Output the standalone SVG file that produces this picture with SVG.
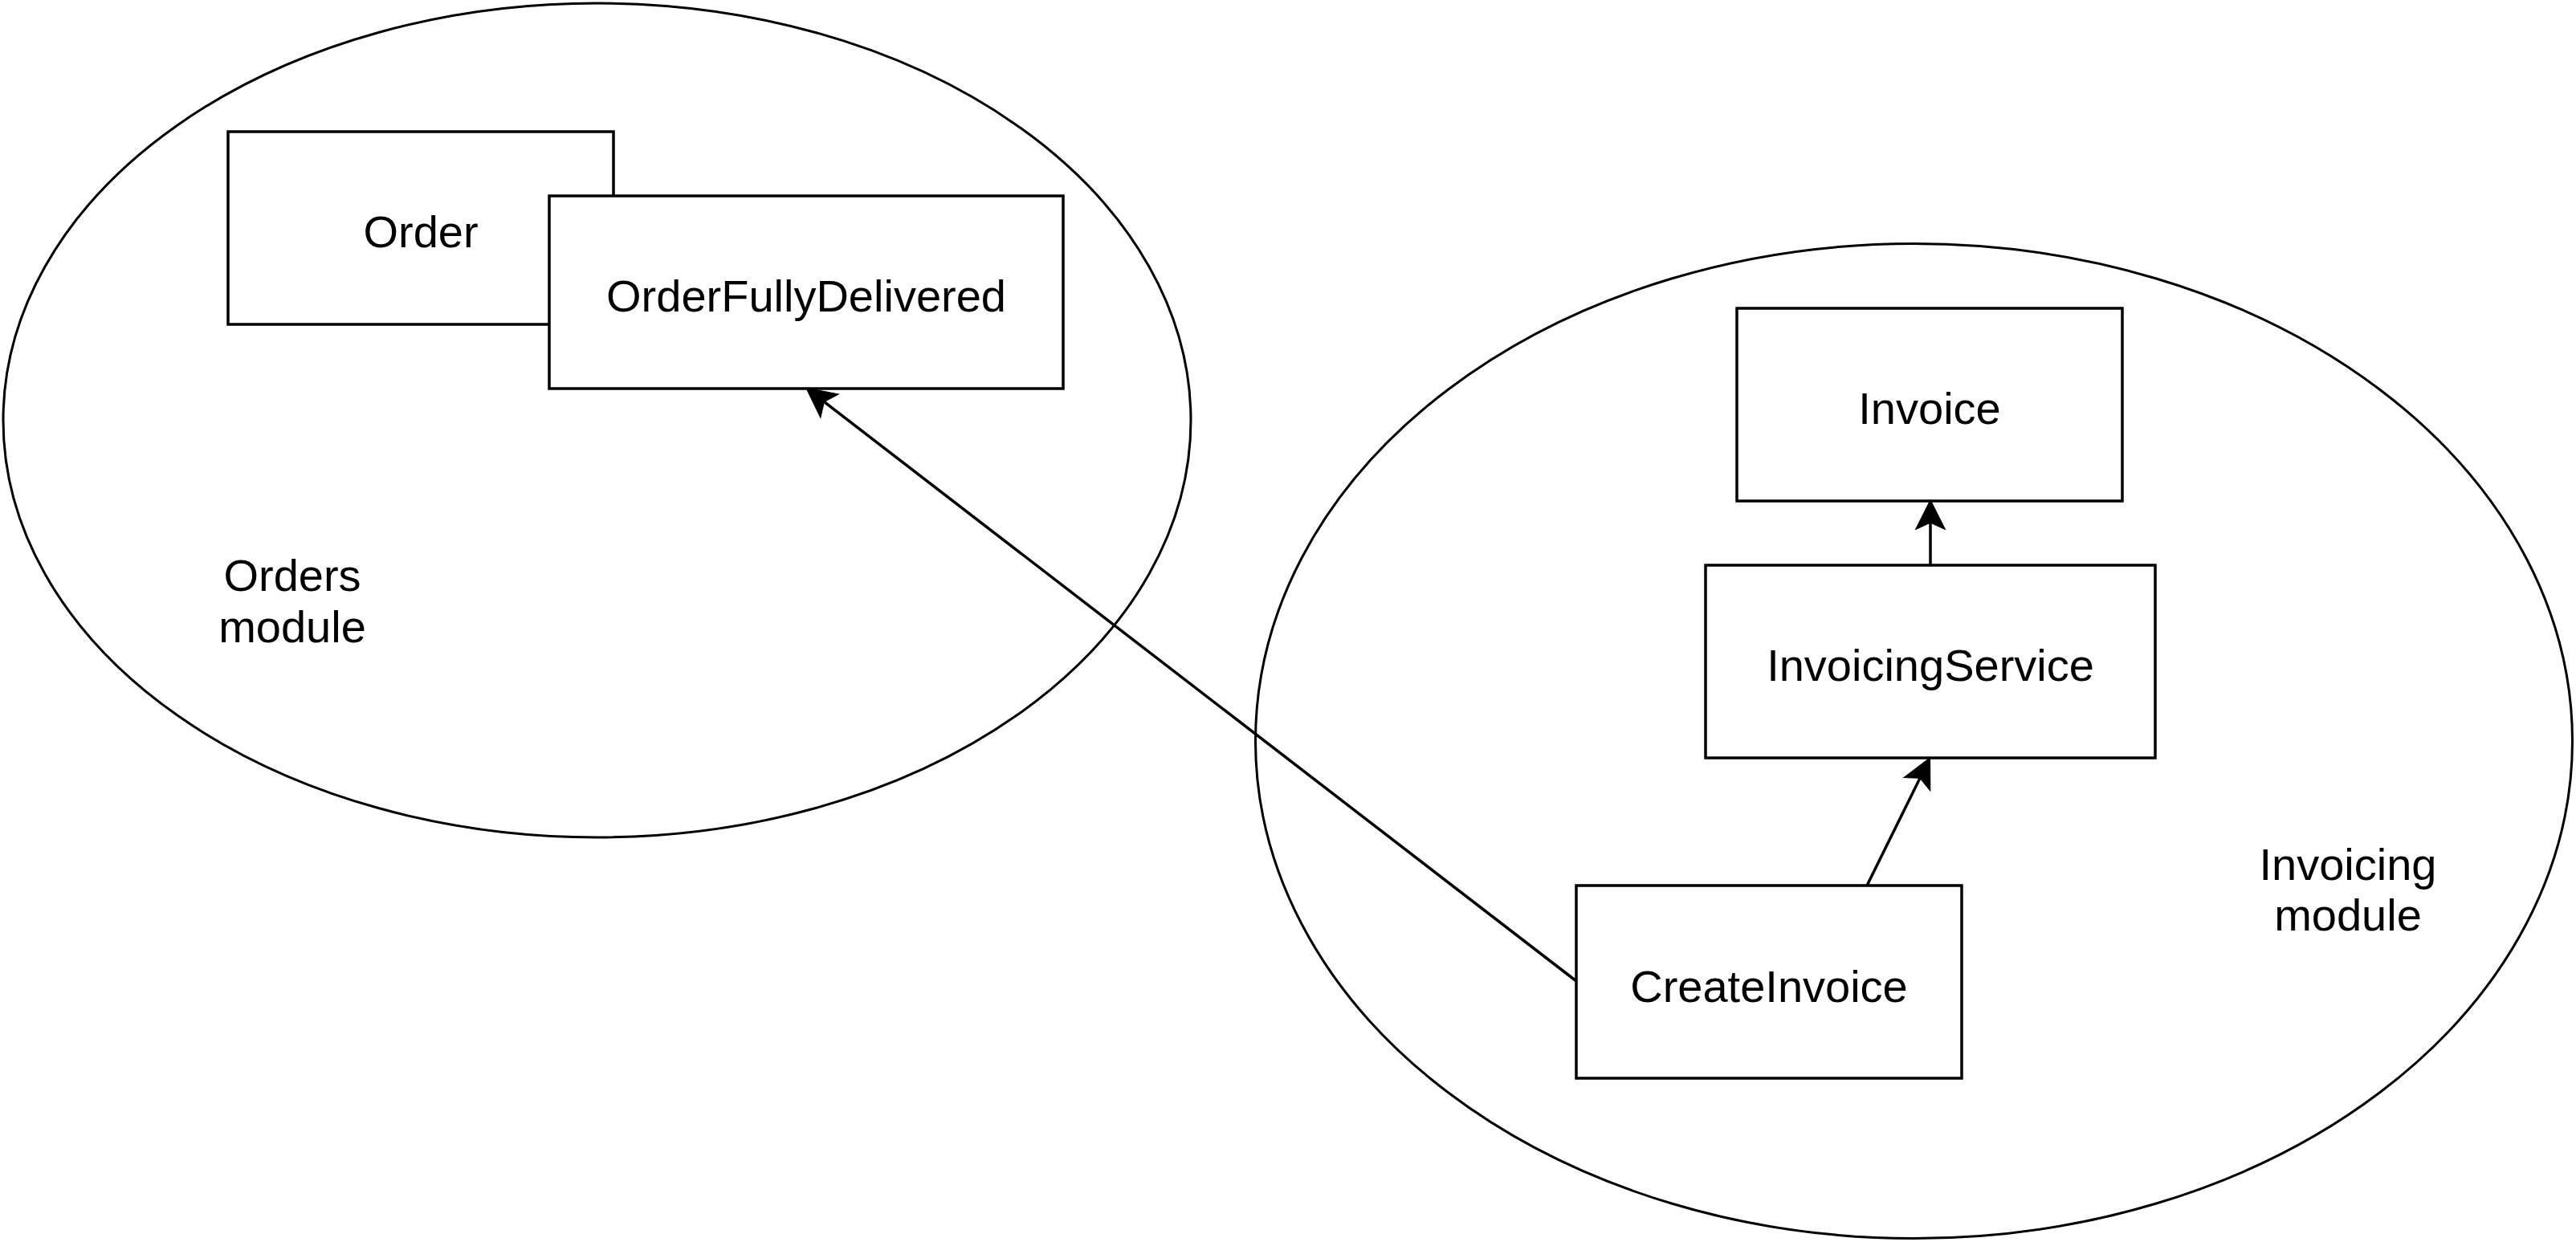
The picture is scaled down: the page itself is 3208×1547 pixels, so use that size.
<svg xmlns="http://www.w3.org/2000/svg" width="3208" height="1547" viewBox="0 0 3208 1547">
  <style>
    .mod { fill: none; stroke: #000; stroke-width: 3; }
    .box { fill: #fff; stroke: #000; stroke-width: 3.5; }
    .lbl { font-family: "Liberation Sans", Arial, sans-serif; font-size: 56px; fill: #000; text-anchor: middle; }
    .edge { fill: none; stroke: #000; stroke-width: 3.5; }
  </style>
  <defs>
    <marker id="arrow" markerUnits="userSpaceOnUse" markerWidth="40" markerHeight="40" viewBox="-1 -19 38 38" refX="8" refY="0" orient="auto">
      <path d="M0,-17.5 L35,0 L0,17.5 L8,0 Z" fill="#000" stroke="#000" stroke-width="1"/>
    </marker>
  </defs>
  <rect x="0" y="0" width="3208" height="1547" fill="#fff"/>

  <g id="orders-module">
    <ellipse class="mod" cx="743.5" cy="523.5" rx="739.5" ry="519.5"/>
    <text class="lbl" x="364" y="736">Orders</text>
    <text class="lbl" x="364" y="800">module</text>
  </g>

  <g id="invoicing-module">
    <ellipse class="mod" cx="2383.5" cy="923" rx="820" ry="619.5"/>
    <text class="lbl" x="2924" y="1096">Invoicing</text>
    <text class="lbl" x="2924" y="1159">module</text>
  </g>

  <g id="order">
    <rect class="box" x="284" y="164" width="480" height="240"/>
    <text class="lbl" x="524" y="308">Order</text>
  </g>

  <g id="order-fully-delivered">
    <rect class="box" x="684" y="244" width="640" height="240"/>
    <text class="lbl" x="1004" y="388">OrderFullyDelivered</text>
  </g>

  <g id="invoice">
    <rect class="box" x="2163" y="384" width="480" height="240"/>
    <text class="lbl" x="2403" y="528">Invoice</text>
  </g>

  <g id="invoicing-service">
    <rect class="box" x="2124" y="704" width="560" height="240"/>
    <text class="lbl" x="2404" y="848">InvoicingService</text>
  </g>

  <g id="create-invoice">
    <rect class="box" x="1963" y="1103" width="480" height="240"/>
    <text class="lbl" x="2203" y="1248">CreateInvoice</text>
  </g>

  <g id="connectors">
    <path class="edge" d="M1963,1222 L1026.4,500.5" marker-end="url(#arrow)"/>
    <path class="edge" d="M2325,1103 L2391,969.2" marker-end="url(#arrow)"/>
    <path class="edge" d="M2404,704 L2404,651" marker-end="url(#arrow)"/>
  </g>
</svg>
